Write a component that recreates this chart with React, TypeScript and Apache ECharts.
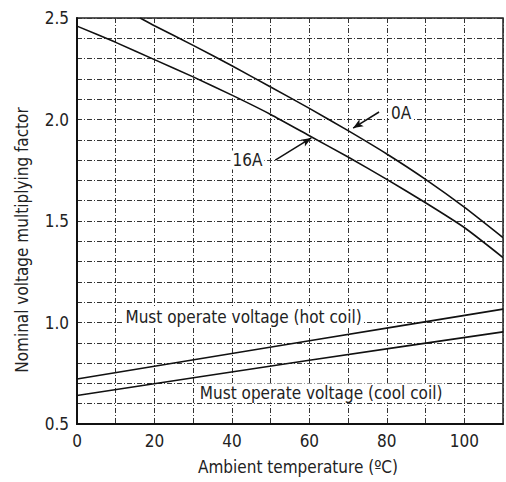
import React, { useEffect, useRef } from "react";
import * as echarts from "echarts";

const FONT = "'Liberation Sans Narrow', 'DejaVu Sans Condensed', 'Roboto Condensed', sans-serif";

// Ambient temperature (°C) vs nominal voltage multiplying factor
const curve0A: [number, number][] = [
  [16.3, 2.5], [20, 2.462], [30, 2.365], [40, 2.265], [50, 2.16], [60, 2.055],
  [70, 1.945], [80, 1.83], [90, 1.705], [100, 1.568], [110, 1.418],
];
const curve16A: [number, number][] = [
  [0, 2.46], [10, 2.38], [20, 2.295], [30, 2.21], [40, 2.12], [50, 2.025],
  [60, 1.92], [70, 1.815], [80, 1.705], [90, 1.59], [100, 1.468], [110, 1.32],
];
const hotCoil: [number, number][] = [[0, 0.722], [60, 0.91], [110, 1.066]];
const coolCoil: [number, number][] = [[0, 0.64], [60, 0.814], [110, 0.954]];

const xTicks = [0, 20, 40, 60, 80, 100];
const yTicks = [0.5, 1.0, 1.5, 2.0, 2.5];

const xTitle = "Ambient temperature (ºC)";
const yTitle = "Nominal voltage multiplying factor";

// annotations: [text, x, y, align]
const labels: [string, number, number, string][] = [
  ["0A", 83.7, 2.032, "center"],
  ["16A", 44.0, 1.8, "center"],
  ["Must operate voltage (hot coil)", 12.0, 1.027, "left"],
  ["Must operate voltage (cool coil)", 31.2, 0.653, "left"],
];
// arrows: from [x,y] to [x,y]
const arrows: [[number, number], [number, number]][] = [
  [[78.0, 2.037], [71.3, 1.958]],
  [[51.2, 1.8], [60.5, 1.909]],
];

export default function App() {
  const ref = useRef<HTMLDivElement>(null);
  useEffect(() => {
    if (!ref.current) return;
    const chart = echarts.init(ref.current, null, { renderer: "svg" });
    const lineStyle = { color: "#111", width: 1.6 };
    const grid = { color: "#333", width: 1, type: [5, 2, 1, 2] };
    chart.setOption({
      animation: false,
      backgroundColor: "#fff",
      grid: {
        left: 77, right: 3, top: 18, bottom: 58,
        show: true, borderColor: "#222", borderWidth: 1.5,
      },
      graphic: [
        {
          type: "text", x: 298, y: 467,
          style: { text: xTitle, fontFamily: FONT, fontSize: 17, fill: "#222", align: "center", verticalAlign: "middle" },
        },
        {
          type: "text", x: 22, y: 240, rotation: Math.PI / 2,
          style: { text: yTitle, fontFamily: FONT, fontSize: 17, fill: "#222", align: "center", verticalAlign: "middle" },
        },
      ],
      xAxis: {
        type: "value", min: 0, max: 110, interval: 10,
        axisLine: { show: true, lineStyle: { color: "#111", width: 2 } },
        axisTick: { show: false },
        axisLabel: {
          fontFamily: FONT, fontSize: 17, color: "#222", margin: 8,
          formatter: (v: number) => (xTicks.includes(Math.round(v)) ? String(Math.round(v)) : ""),
        },
        splitLine: { show: true, lineStyle: grid },
      },
      yAxis: {
        type: "value", min: 0.5, max: 2.5, interval: 0.1,
        axisLine: { show: true, lineStyle: { color: "#111", width: 2 } },
        axisTick: { show: false },
        axisLabel: {
          fontFamily: FONT, fontSize: 17, color: "#222", margin: 8,
          formatter: (v: number) => {
            const t = yTicks.find((k) => Math.abs(k - v) < 1e-6);
            return t !== undefined ? t.toFixed(1) : "";
          },
        },
        splitLine: { show: true, lineStyle: grid },
      },
      series: [
        { name: "0A", type: "line", data: curve0A, showSymbol: false, smooth: 0.2, lineStyle },
        { name: "16A", type: "line", data: curve16A, showSymbol: false, smooth: 0.2, lineStyle },
        { name: "hot", type: "line", data: hotCoil, showSymbol: false, smooth: 0.2, lineStyle },
        { name: "cool", type: "line", data: coolCoil, showSymbol: false, smooth: 0.2, lineStyle },
        {
          name: "annotations", type: "scatter", data: [], silent: true,
          markLine: {
            silent: true, symbol: ["none", "arrow"], symbolSize: [6, 10],
            lineStyle: { color: "#111", width: 1.5, type: "solid" },
            label: { show: false },
            data: arrows.map(([a, b]) => [{ coord: a }, { coord: b }]),
          },
          markPoint: {
            silent: true, symbol: "circle", symbolSize: 0,
            data: labels.map(([t, x, y, align]) => ({
              coord: [x, y], name: t,
              label: {
                show: true, position: "inside", formatter: t, align,
                verticalAlign: "middle", fontFamily: FONT, fontSize: 17, color: "#222",
                backgroundColor: "#fff", padding: [1, 2],
              },
            })),
          },
        },
      ],
    });
    return () => chart.dispose();
  }, []);
  return <div ref={ref} style={{ width: 506, height: 482, position: "fixed", left: 0, top: 0 }} />;
}
